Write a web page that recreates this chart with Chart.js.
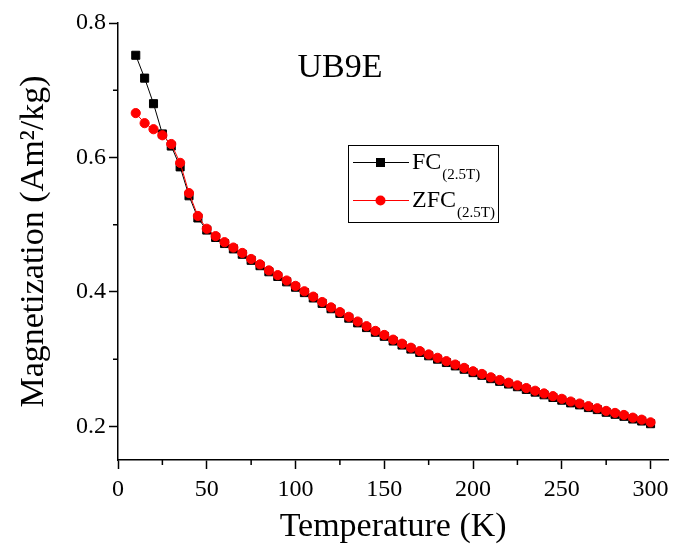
<!DOCTYPE html>
<html>
<head>
<meta charset="utf-8">
<script src="https://cdn.jsdelivr.net/npm/chart.js@4.4.0/dist/chart.umd.min.js"></script>
<style>
    html, body { margin: 0; padding: 0; background: #fff; }
    #wrap { width: 675px; height: 545px; }
</style>
</head>
<body>
<div id="wrap"><canvas id="chart" width="675" height="545"></canvas></div>
<script>
// temperature (K)
const temps = [10, 15, 20, 25, 30, 35, 40, 45, 50, 55, 60, 65, 70, 75, 80, 85, 90, 95,
    100, 105, 110, 115, 120, 125, 130, 135, 140, 145, 150, 155, 160, 165, 170, 175,
    180, 185, 190, 195, 200, 205, 210, 215, 220, 225, 230, 235, 240, 245, 250, 255,
    260, 265, 270, 275, 280, 285, 290, 295, 300];

// field cooled, 2.5 T
const fcValues = [0.752, 0.718, 0.680, 0.635, 0.617, 0.586, 0.543, 0.510, 0.492, 0.481,
    0.472, 0.464, 0.456, 0.447, 0.439, 0.430, 0.423, 0.415, 0.407, 0.399, 0.391, 0.383,
    0.375, 0.368, 0.361, 0.354, 0.347, 0.340, 0.334, 0.327, 0.321, 0.315, 0.310, 0.305,
    0.300, 0.295, 0.290, 0.285, 0.280, 0.276, 0.271, 0.267, 0.263, 0.259, 0.255, 0.251,
    0.247, 0.243, 0.239, 0.235, 0.232, 0.228, 0.225, 0.221, 0.218, 0.215, 0.211, 0.208, 0.204];

// zero field cooled, 2.5 T
const zfcValues = [0.666, 0.651, 0.642, 0.633, 0.620, 0.592, 0.547, 0.513, 0.494, 0.483,
    0.474, 0.466, 0.458, 0.449, 0.441, 0.432, 0.425, 0.417, 0.409, 0.401, 0.393, 0.385,
    0.377, 0.370, 0.363, 0.356, 0.349, 0.342, 0.336, 0.329, 0.323, 0.317, 0.312, 0.307,
    0.302, 0.297, 0.292, 0.287, 0.282, 0.278, 0.273, 0.269, 0.265, 0.261, 0.257, 0.253,
    0.249, 0.245, 0.241, 0.237, 0.234, 0.230, 0.227, 0.223, 0.220, 0.217, 0.213, 0.210, 0.206];

const xTicks = [0, 50, 100, 150, 200, 250, 300];
const xMinor = [25, 75, 125, 175, 225, 275];
const yTicks = [0.2, 0.4, 0.6, 0.8];
const yMinor = [0.3, 0.5, 0.7];

const FONT = "'Liberation Serif', 'DejaVu Serif', serif";

function toPoints(ys) {
    return temps.map((t, i) => ({x: t, y: ys[i]}));
}

// short minor ticks, placed through the scales
const minorTicks = {
    id: 'minorTicks',
    afterDraw(chart) {
        const ctx = chart.ctx;
        const xs = chart.scales.x;
        const ys = chart.scales.y;
        ctx.save();
        ctx.strokeStyle = '#000';
        ctx.lineWidth = 1.5;
        ctx.beginPath();
        xMinor.forEach(v => {
            const px = xs.getPixelForValue(v);
            ctx.moveTo(px, xs.top);
            ctx.lineTo(px, xs.top + 5);
        });
        yMinor.forEach(v => {
            const py = ys.getPixelForValue(v);
            ctx.moveTo(ys.right, py);
            ctx.lineTo(ys.right - 5, py);
        });
        ctx.stroke();
        ctx.restore();
    }
};

// sample name and boxed legend with subscripts
const annotations = {
    id: 'annotations',
    afterDraw(chart) {
        const ctx = chart.ctx;
        ctx.save();
        ctx.fillStyle = '#000';
        ctx.textAlign = 'center';
        ctx.textBaseline = 'alphabetic';
        ctx.font = '34px ' + FONT;
        ctx.fillText('UB9E', 340, 77);

        // legend box
        ctx.strokeStyle = '#000';
        ctx.lineWidth = 1;
        ctx.strokeRect(348.5, 145.5, 150, 77);

        // FC row
        ctx.beginPath();
        ctx.moveTo(353, 162.5);
        ctx.lineTo(409, 162.5);
        ctx.stroke();
        ctx.fillRect(376, 158, 9, 9);

        // ZFC row
        ctx.strokeStyle = '#ff0000';
        ctx.beginPath();
        ctx.moveTo(353, 200.5);
        ctx.lineTo(409, 200.5);
        ctx.stroke();
        ctx.fillStyle = '#ff0000';
        ctx.beginPath();
        ctx.arc(380.5, 200.5, 5, 0, Math.PI * 2);
        ctx.fill();

        ctx.fillStyle = '#000';
        ctx.textAlign = 'left';
        ctx.font = '24px ' + FONT;
        ctx.fillText('FC', 412, 169);
        let w = ctx.measureText('FC').width;
        ctx.font = '15px ' + FONT;
        ctx.fillText('(2.5T)', 412 + w + 1, 179);

        ctx.font = '24px ' + FONT;
        ctx.fillText('ZFC', 412, 207);
        w = ctx.measureText('ZFC').width;
        ctx.font = '15px ' + FONT;
        ctx.fillText('(2.5T)', 412 + w + 1, 217);
        ctx.restore();
    }
};

const axisCommon = {
    type: 'linear',
    grid: {
        drawOnChartArea: false,
        drawTicks: true,
        tickLength: 9,
        tickWidth: 1.5,
        color: '#000'
    },
    border: {display: true, color: '#000', width: 1.5},
    ticks: {
        color: '#000',
        font: {family: FONT, size: 24},
        padding: 3
    }
};

new Chart(document.getElementById('chart'), {
    type: 'scatter',
    data: {
        datasets: [{
            label: 'FC(2.5T)',
            data: toPoints(fcValues),
            showLine: true,
            borderColor: '#000',
            borderWidth: 1,
            backgroundColor: '#000',
            pointStyle: 'rect',
            pointRadius: 5.7,
            pointBorderWidth: 1,
            order: 1
        }, {
            label: 'ZFC(2.5T)',
            data: toPoints(zfcValues),
            showLine: true,
            borderColor: '#ff0000',
            borderWidth: 1,
            backgroundColor: '#ff0000',
            pointStyle: 'circle',
            pointRadius: 4.6,
            pointBorderWidth: 1,
            order: 0
        }]
    },
    options: {
        responsive: false,
        animation: false,
        layout: {padding: {top: 23, right: 3, left: 0, bottom: 0}},
        plugins: {
            legend: {display: false},
            tooltip: {enabled: false}
        },
        scales: {
            x: {
                ...axisCommon,
                min: 0,
                max: 310,
                afterBuildTicks: s => { s.ticks = xTicks.map(v => ({value: v})); },
                afterFit: s => { s.height = 85; },
                ticks: {
                    ...axisCommon.ticks,
                    padding: 6
                },
                title: {
                    display: true,
                    text: 'Temperature (K)',
                    color: '#000',
                    font: {family: FONT, size: 34},
                    padding: {top: 0, bottom: -2}
                }
            },
            y: {
                ...axisCommon,
                min: 0.15,
                max: 0.8,
                afterBuildTicks: s => { s.ticks = yTicks.map(v => ({value: v})); },
                afterFit: s => { s.width = 118; },
                ticks: {
                    ...axisCommon.ticks,
                    callback: v => v.toFixed(1)
                },
                title: {
                    display: true,
                    text: 'Magnetization (Am\u00b2/kg)',
                    color: '#000',
                    font: {family: FONT, size: 34},
                    padding: {top: 14, bottom: 0}
                }
            }
        }
    },
    plugins: [minorTicks, annotations]
});
</script>
</body>
</html>
